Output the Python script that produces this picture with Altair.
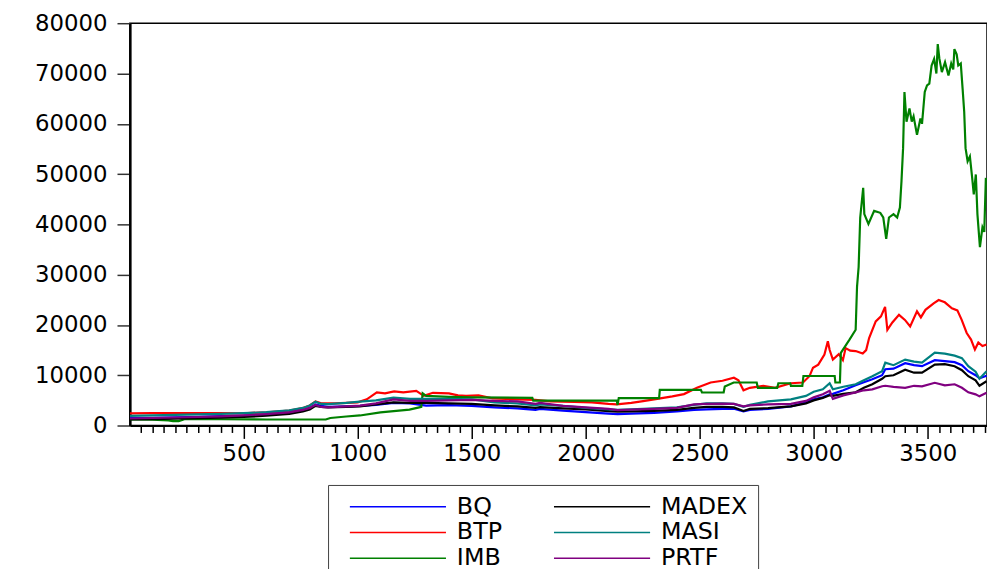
import altair as alt
import pandas as pd

SERIES = ["BQ", "BTP", "IMB", "MADEX", "MASI", "PRTF"]
COLORS = {"BQ": "#0000FF", "BTP": "#FF0000", "IMB": "#008000",
          "MADEX": "#000000", "MASI": "#008080", "PRTF": "#800080"}

Y_TICKS = [0, 10000, 20000, 30000, 40000, 50000, 60000, 70000, 80000]
X_MAJOR = 500
X_MINOR = 50
X_MAX = 3760

X_LOW = [1, 100, 200, 300, 400, 500, 600, 700, 760, 790, 815, 840, 870, 950, 1010,
         1080, 1157, 1230, 1300, 1400, 1500, 1600, 1700, 1780, 1800, 1900, 2000,
         2100, 2140, 2200, 2300, 2400, 2475, 2530, 2600, 2650, 2692, 2720, 2800,
         2900, 2966, 3000, 3040, 3070, 3084, 3130, 3184, 3220, 3257, 3300, 3314,
         3350, 3401, 3440, 3475, 3531, 3575, 3618, 3650, 3678, 3710, 3727, 3758]

BQ = [1500, 1550, 1650, 1750, 1850, 1950, 2200, 2600, 3100, 3500, 4200, 3900, 3700,
      3800, 3900, 4100, 4500, 4400, 3950, 4050, 3900, 3600, 3400, 3100, 3300, 2950,
      2650, 2350, 2250, 2350, 2500, 2800, 3100, 3200, 3300, 3350, 2800, 3100, 3300,
      3800, 4600, 5200, 5600, 6200, 6300, 7000, 8000, 8600, 9200, 10000, 11200,
      11300, 12400, 12000, 11800, 13000, 12800, 12600, 12000, 10800, 10000, 9400, 9900]

MADEX = [1200, 1250, 1350, 1450, 1550, 1700, 1950, 2300, 2800, 3200, 3900, 3700, 3600,
         3700, 3800, 4200, 4600, 4500, 4500, 4400, 4300, 4000, 3800, 3500, 3650, 3400,
         3200, 2850, 2750, 2800, 2900, 3100, 3500, 3700, 3700, 3600, 2900, 3300, 3450,
         3800, 4400, 5000, 5500, 6000, 5900, 6300, 6600, 7500, 8200, 9300, 9800,
         10000, 11100, 10500, 10500, 12100, 12200, 11800, 11000, 9800, 9000, 7900, 8800]

MASI = [1900, 2000, 2100, 2200, 2300, 2450, 2650, 3000, 3500, 4000, 4750, 4300, 4250,
        4500, 4750, 5000, 5550, 5300, 5300, 5300, 5200, 4600, 4400, 4000, 4200, 3900,
        3500, 3200, 3100, 3200, 3400, 3600, 4100, 4400, 4400, 4300, 3700, 4100, 4800,
        5200, 5900, 6700, 7200, 8400, 7200, 7700, 8200, 9000, 9800, 10800, 12500,
        12000, 13100, 12700, 12500, 14500, 14300, 13900, 13400, 11800, 10700, 9300, 10800]

PRTF = [1400, 1500, 1600, 1700, 1800, 2000, 2250, 2600, 3100, 3500, 4100, 3700, 3600,
        3800, 3950, 4400, 5200, 4900, 4900, 5000, 5100, 4900, 4800, 4300, 4500, 3900,
        3600, 3300, 3050, 3150, 3300, 3500, 4200, 4300, 4350, 4300, 3800, 4000, 4200,
        4300, 4900, 5600, 6200, 6900, 5300, 6000, 6600, 7000, 7200, 7800, 7900,
        7700, 7500, 7900, 7800, 8500, 8000, 8200, 7500, 6600, 6200, 5800, 6500]

X_BTP = [1, 100, 200, 300, 390, 500, 600, 700, 760, 790, 815, 840, 900, 1000, 1040,
         1084, 1120, 1160, 1200, 1257, 1290, 1330, 1400, 1440, 1475, 1530, 1591, 1650,
         1700, 1779, 1845, 1950, 2027, 2100, 2136, 2200, 2245, 2314, 2380, 2431, 2488,
         2548, 2600, 2650, 2670, 2692, 2720, 2779, 2830, 2900, 2953, 2982, 2997, 3020,
         3047, 3062, 3070, 3084, 3110, 3128, 3140, 3160, 3184, 3215, 3230, 3243, 3272,
         3295, 3313, 3323, 3345, 3374, 3400, 3423, 3453, 3470, 3490, 3526, 3548, 3575,
         3606, 3630, 3649, 3671, 3690, 3707, 3722, 3740, 3758]
BTP = [2400, 2450, 2450, 2450, 2450, 2440, 2640, 2990, 3490, 4000, 4800, 4400, 4400,
       4600, 5200, 6600, 6400, 6800, 6600, 6900, 5900, 6500, 6400, 6000, 5900, 6000,
       5400, 5300, 5200, 5100, 4800, 4700, 4600, 4300, 4200, 4500, 4800, 5300, 5800,
       6250, 7500, 8550, 8900, 9500, 9000, 7000, 7500, 7880, 7500, 8400, 8550, 9850,
       11500, 12100, 14100, 16750, 15000, 13100, 14200, 13000, 15400, 14900, 14800,
       14300, 15000, 17400, 20700, 21700, 23600, 19000, 20500, 22000, 21000, 19700,
       22700, 21500, 23000, 24300, 24960, 24500, 23300, 22900, 21000, 18400, 17100,
       15100, 16500, 15800, 16100]

X_IMB = [1, 100, 170, 190, 215, 240, 400, 600, 860, 880, 950, 1010, 1100, 1227, 1270,
         1279, 1285, 1300, 1400, 1500, 1766, 1770, 2136, 2140, 2145, 2322, 2325, 2505,
         2510, 2605, 2610, 2649, 2750, 2755, 2840, 2845, 2897, 2900, 2950, 2955, 3092,
         3095, 3115, 3119, 3157, 3184, 3190, 3197, 3204, 3217, 3222, 3240, 3265, 3292,
         3305, 3318, 3330, 3350, 3366, 3378, 3385, 3392, 3398, 3407, 3420, 3430, 3438,
         3453, 3468, 3475, 3487, 3497, 3507, 3517, 3528, 3538, 3544, 3551, 3562, 3576,
         3591, 3603, 3612, 3617, 3627, 3634, 3645, 3653, 3660, 3666, 3675, 3685, 3695,
         3702, 3711, 3718, 3729, 3740, 3748, 3755]
IMB = [1200, 1150, 1000, 870, 870, 1250, 1250, 1200, 1200, 1500, 1800, 2000, 2600,
       3150, 3600, 3700, 6400, 5900, 5700, 5600, 5500, 4950, 4950, 4100, 5460, 5460,
       7100, 7100, 6570, 6570, 7760, 8550, 8550, 7500, 7500, 8400, 8400, 7900, 7900,
       9850, 9850, 8550, 8550, 14460, 17080, 19050, 27580, 31520, 41370, 47280, 42040,
       40070, 42690, 42300, 41370, 37110, 41370, 42040, 41370, 43340, 48600, 55160,
       66330, 60420, 63040, 60420, 61500, 57800, 61070, 60000, 66330, 67650, 68000,
       71590, 72900, 70000, 75850, 73000, 70270, 72240, 69620, 72000, 70800, 74860,
       73800, 71590, 72000, 66980, 62390, 55160, 52540, 53500, 49250, 45980, 49920,
       42040, 35460, 39400, 38500, 49250]

rows = []
def add(name, xs, ys):
    for x, y in zip(xs, ys):
        rows.append({"s": name, "t": x, "v": y})

add("BQ", X_LOW, BQ)
add("BTP", X_BTP, BTP)
add("IMB", X_IMB, IMB)
add("MADEX", X_LOW, MADEX)
add("MASI", X_LOW, MASI)
add("PRTF", X_LOW, PRTF)
df = pd.DataFrame(rows)
df["o"] = df["s"].map({n: i for i, n in enumerate(SERIES)})

FONT = "DejaVu Sans"
minor_vals = list(range(X_MINOR, X_MAX, X_MINOR))

chart = alt.Chart(df).mark_line(strokeWidth=2.2, clip=True).encode(
    x=alt.X("t:Q", title=None,
            scale=alt.Scale(domain=[1, X_MAX], nice=False, zero=False),
            axis=alt.Axis(values=minor_vals, format="d",
                          labelExpr=f"datum.value % {X_MAJOR} === 0 ? datum.label : ''",
                          tickSize={"condition": {"test": f"datum.value % {X_MAJOR} === 0", "value": 13}, "value": 7},
                          tickColor="black", tickWidth=1.5, domainColor="black", domainWidth=2,
                          labelFont=FONT, labelFontSize=23, labelColor="black",
                          labelPadding=4, labelOverlap=False, labelFlush=False, grid=False)),
    y=alt.Y("v:Q", title=None,
            scale=alt.Scale(domain=[0, 80000], nice=False),
            axis=alt.Axis(values=Y_TICKS, format="d", tickSize=13, tickColor="#333",
                          tickWidth=1.5, domainColor="black", domainWidth=2.5,
                          labelFont=FONT, labelFontSize=23, labelColor="black",
                          labelPadding=10, labelOverlap=False, labelFlush=False, grid=False)),
    color=alt.Color("s:N",
                    scale=alt.Scale(domain=SERIES, range=[COLORS[n] for n in SERIES]),
                    legend=alt.Legend(title=None, orient="none", legendX=200, legendY=466,
                                      columns=2, symbolType="M0,0H19.4", symbolSize=100,
                                      symbolStrokeWidth=1.5, labelFont=FONT, labelFontSize=24,
                                      labelColor="black", labelOffset=96, rowPadding=2,
                                      columnPadding=40, padding=10, strokeColor="#404040",
                                      fillColor="white", labelLimit=0)),
    order=alt.Order("o:Q"),
).properties(
    width=865, height=406,
    autosize=alt.AutoSizeParams(type="none"),
    padding={"left": 123, "top": 12.7, "right": 0, "bottom": 160},
).configure_view(stroke="black", strokeWidth=1.5)

chart.save("out.html", embed_options={"renderer": "svg", "actions": False})
